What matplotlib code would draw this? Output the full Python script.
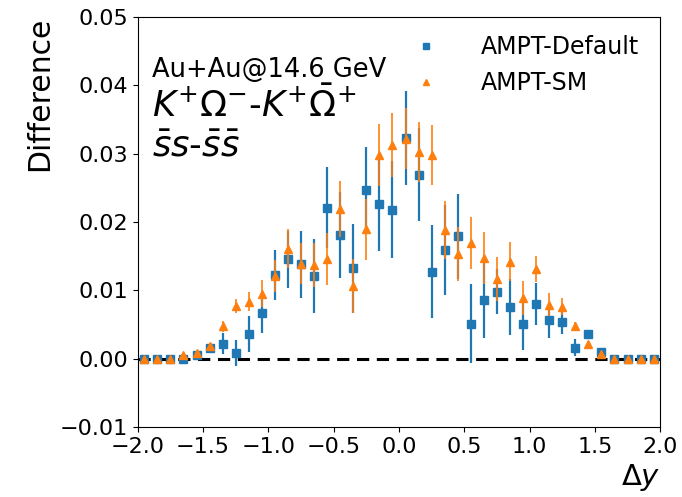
import matplotlib
matplotlib.use("Agg")
import matplotlib.pyplot as plt
from matplotlib.lines import Line2D
import numpy as np

# bin centres in delta y
dy = np.round(np.arange(-1.95, 2.0, 0.1), 2)

default_val = [0.0, 0.0, 0.0, -0.0001, 0.0005, 0.0016, 0.0022, 0.0008, 0.0036, 0.0066,
               0.0122, 0.0145, 0.0138, 0.0121, 0.0221, 0.0181, 0.0132, 0.0247, 0.0226, 0.0218,
               0.0323, 0.0269, 0.0127, 0.0159, 0.0179, 0.0051, 0.0085, 0.0098, 0.0076, 0.0050,
               0.0080, 0.0056, 0.0054, 0.0016, 0.0036, 0.0009, 0.0, 0.0, 0.0, 0.0]
default_err = [0.0001, 0.0001, 0.0001, 0.0002, 0.0003, 0.0005, 0.0015, 0.0019, 0.0026, 0.0028,
               0.0037, 0.0042, 0.0049, 0.0054, 0.0059, 0.0063, 0.0065, 0.0063, 0.0068, 0.0071,
               0.0069, 0.0068, 0.0068, 0.0066, 0.0062, 0.0058, 0.0055, 0.0033, 0.0041, 0.0037,
               0.0031, 0.0026, 0.0018, 0.0012, 0.0005, 0.0003, 0.0001, 0.0001, 0.0001, 0.0001]

sm_val = [0.0, 0.0, 0.0, 0.0005, 0.0008, 0.0018, 0.0047, 0.0077, 0.0083, 0.0095,
          0.0121, 0.0161, 0.0139, 0.0137, 0.0146, 0.0219, 0.0106, 0.0189, 0.0298, 0.0313,
          0.0322, 0.0302, 0.0298, 0.0188, 0.0153, 0.0169, 0.0147, 0.0116, 0.0142, 0.0089,
          0.0131, 0.0079, 0.0076, 0.0047, 0.0022, 0.0007, 0.0, 0.0, 0.0, 0.0]
sm_err = [0.0001, 0.0001, 0.0001, 0.0002, 0.0003, 0.0005, 0.0008, 0.0010, 0.0014, 0.0020,
          0.0023, 0.0028, 0.0030, 0.0032, 0.0038, 0.0041, 0.0040, 0.0045, 0.0045, 0.0047,
          0.0045, 0.0044, 0.0044, 0.0043, 0.0040, 0.0038, 0.0038, 0.0032, 0.0028, 0.0025,
          0.0019, 0.0017, 0.0012, 0.0006, 0.0004, 0.0003, 0.0001, 0.0001, 0.0001, 0.0001]

labels = ["AMPT-Default", "AMPT-SM"]

fig = plt.figure(figsize=(6.82, 4.97), dpi=100)
ax = fig.add_axes([0.202, 0.141, 0.766, 0.825])

ax.errorbar(dy, default_val, yerr=default_err, fmt="s", color="tab:blue",
            ms=6, elinewidth=1.6, capsize=0, zorder=3)
ax.errorbar(dy, sm_val, yerr=sm_err, fmt="^", color="tab:orange",
            ms=6, elinewidth=1.2, capsize=0, zorder=4)
ax.axhline(0, color="black", ls=(0, (4, 2.5)), lw=2.2, zorder=2)

ax.set_xlim(-2.0, 2.0)
ax.set_ylim(-0.01, 0.05)
ax.set_xticks(np.arange(-2.0, 2.01, 0.5))
ax.set_yticks(np.arange(-0.01, 0.051, 0.01))
ax.tick_params(labelsize=16)
ax.set_ylabel("Difference", fontsize=21.5, loc="top")
ax.set_xlabel(r"$\Delta y$", fontsize=21, loc="right")

ax.text(0.027, 0.853, "Au+Au@14.6 GeV", transform=ax.transAxes, fontsize=18.5)
ax.text(0.027, 0.755, r"$K^{+}\Omega^{-}$-$K^{+}\bar{\Omega}^{+}$",
        transform=ax.transAxes, fontsize=25.5)
ax.text(0.027, 0.66, r"$\bar{s}s$-$\bar{s}\bar{s}$",
        transform=ax.transAxes, fontsize=25.5)

handles = [
    Line2D([], [], ls="none", marker="s", color="tab:blue", ms=4),
    Line2D([], [], ls="none", marker="^", color="tab:orange", ms=4),
]
ax.legend(handles, labels, loc="upper right", fontsize=17, frameon=False,
          handletextpad=1.3, labelspacing=0.5, bbox_to_anchor=(1.0, 1.007))

fig.savefig("out.png", dpi=100)
